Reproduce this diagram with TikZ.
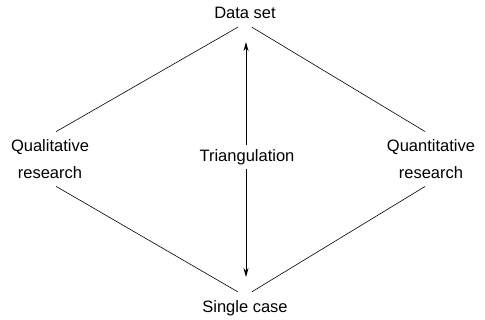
\documentclass[tikz,border=0pt]{standalone}
\usepackage{fontspec}
\setmainfont{Liberation Sans}
\usetikzlibrary{arrows.meta}

\begin{document}
\begin{tikzpicture}[x=1pt,y=1pt,line width=0.6pt]
    \tikzset{label/.style={font=\fontsize{16.5}{27}\selectfont, align=center, inner sep=4pt}}
    \useasboundingbox (0,0) rectangle (485,320);

    \node[label] (dataset) at (245,307) {Data set};
    \node[label] (single) at (245,12) {Single case};
    \node[label] (qual) at (50,161) {Qualitative\\research};
    \node[label] (quant) at (431,161) {Quantitative\\research};
    \node[label] (tri) at (247,163) {Triangulation};

    \draw[shorten <=8pt, shorten >=7pt] (dataset.south) -- (qual.north);
    \draw[shorten <=8pt, shorten >=7pt] (dataset.south) -- (quant.north);
    \draw[shorten <=7pt, shorten >=8pt] (qual.south) -- (single.north);
    \draw[shorten <=7pt, shorten >=8pt] (quant.south) -- (single.north);

    \draw[-{Stealth[length=9pt,width=5pt]}, line width=0.8pt, shorten >=19pt] (tri.north -| 246,0) -- (dataset.south -| 246,0);
    \draw[-{Stealth[length=9pt,width=5pt]}, line width=0.8pt, shorten >=19pt] (tri.south -| 246,0) -- (single.north -| 246,0);
\end{tikzpicture}
\end{document}
